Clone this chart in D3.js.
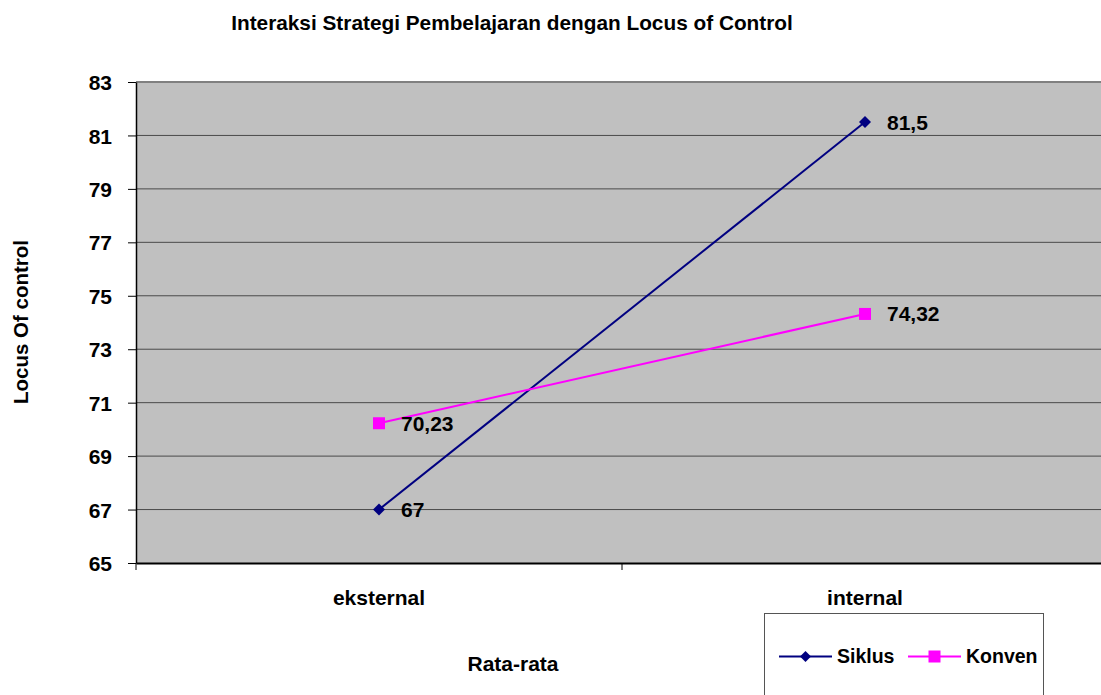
<!DOCTYPE html>
<html><head><meta charset="utf-8">
<script src="https://cdn.jsdelivr.net/npm/d3@7"></script>
<style>body{margin:0;background:#fff}svg{display:block}text{font-family:Arial,"Liberation Sans",sans-serif;font-weight:bold;fill:#000}</style>
</head><body><svg id="c" width="1101" height="695"></svg>
<script>
const categories = ["eksternal", "internal"];
const siklus = [67, 81.5];
const konven = [70.23, 74.32];
const siklusLabels = ["67", "81,5"];
const konvenLabels = ["70,23", "74,32"];
const yTicks = [65, 67, 69, 71, 73, 75, 77, 79, 81, 83];
const seriesNames = ["Siklus", "Konven"];

const FF = "Arial, 'Liberation Sans', sans-serif";
const svg = d3.select("#c");
const L = 136, T = 82, B = 563, R = 1108;
const x = d3.scaleBand().domain(categories).range([L, R]);
const y = d3.scaleLinear().domain([65, 83]).range([B, T]);

svg.append("rect").attr("x", L).attr("y", T).attr("width", R - L).attr("height", B - T).attr("fill", "#C0C0C0");
// gridlines
svg.append("g").selectAll("line").data(yTicks.slice(1)).join("line")
  .attr("x1", L).attr("x2", R).attr("y1", d => y(d)).attr("y2", d => y(d))
  .attr("stroke", d => d === 83 ? "#808080" : "#4a4a4a").attr("stroke-width", d => d === 83 ? 2 : 1);

// y axis
const ya = svg.append("g").attr("transform", `translate(${L},0)`)
  .call(d3.axisLeft(y).tickValues(yTicks).tickSize(8).tickPadding(16).tickSizeOuter(0));
ya.select(".domain").attr("stroke", "#000").attr("stroke-width", 1.5);
ya.selectAll(".tick line").attr("stroke", "#000");
ya.selectAll("text").style("font-size", "21px").style("font-family", FF).style("font-weight", "bold").attr("fill", "#000").attr("dy", "0.36em");

// x axis
const xa = svg.append("g").attr("transform", `translate(0,${B})`)
  .call(d3.axisBottom(x).tickSize(0).tickSizeOuter(0).tickPadding(0));
xa.select(".domain").attr("stroke", "#000").attr("stroke-width", 2);
xa.selectAll("text").style("font-size", "21px").style("font-family", FF).style("font-weight", "bold")
  .attr("fill", "#000").attr("y", 42).attr("dy", 0);
// boundary ticks
const bounds = [L, x(categories[1])];
svg.append("g").selectAll("line").data(bounds).join("line")
  .attr("x1", d => d).attr("x2", d => d).attr("y1", B).attr("y2", B + 7).attr("stroke", "#000");

const cx = d => x(d) + x.bandwidth() / 2;
const line = d3.line().x((d, i) => cx(categories[i])).y(d => y(d));

svg.append("path").datum(siklus).attr("d", line).attr("fill", "none").attr("stroke", "#000080").attr("stroke-width", 2);
svg.append("path").datum(konven).attr("d", line).attr("fill", "none").attr("stroke", "#FF00FF").attr("stroke-width", 2);

svg.append("g").selectAll("path").data(siklus).join("path")
  .attr("d", d3.symbol().type(d3.symbolSquare).size(72)).attr("fill", "#000080")
  .attr("transform", (d, i) => `translate(${cx(categories[i])},${y(d)}) rotate(45)`);
svg.append("g").selectAll("rect").data(konven).join("rect")
  .attr("x", (d, i) => cx(categories[i]) - 6).attr("y", d => y(d) - 6)
  .attr("width", 12).attr("height", 12).attr("fill", "#FF00FF");

// data labels
svg.append("g").selectAll("text").data(siklus).join("text")
  .attr("x", (d, i) => cx(categories[i]) + 22).attr("y", d => y(d) + 7.5)
  .style("font-size", "21px").text((d, i) => siklusLabels[i]);
svg.append("g").selectAll("text").data(konven).join("text")
  .attr("x", (d, i) => cx(categories[i]) + 22).attr("y", d => y(d) + 7.5)
  .style("font-size", "21px").text((d, i) => konvenLabels[i]);

// titles
svg.append("text").attr("x", 512).attr("y", 30).attr("text-anchor", "middle").style("font-size", "20.8px")
  .text("Interaksi Strategi Pembelajaran dengan Locus of Control");
svg.append("text").attr("transform", "translate(28,322) rotate(-90)").attr("text-anchor", "middle").style("font-size", "20.5px")
  .text("Locus Of control");
svg.append("text").attr("x", 513).attr("y", 671).attr("text-anchor", "middle").style("font-size", "21px").text("Rata-rata");

// legend
const lg = svg.append("g");
lg.append("rect").attr("x", 764.5).attr("y", 613.5).attr("width", 279).attr("height", 90).attr("fill", "#fff").attr("stroke", "#555");
const items = [{name: seriesNames[0], color: "#000080", x: 779, type: "d"}, {name: seriesNames[1], color: "#FF00FF", x: 908, type: "s"}];
items.forEach(it => {
  lg.append("line").attr("x1", it.x).attr("x2", it.x + 53).attr("y1", 656.5).attr("y2", 656.5).attr("stroke", it.color).attr("stroke-width", 2);
  if (it.type === "d") {
    lg.append("path").attr("d", d3.symbol().type(d3.symbolSquare).size(60)).attr("fill", it.color)
      .attr("transform", `translate(${it.x + 26.5},656.5) rotate(45)`);
  } else {
    lg.append("rect").attr("x", it.x + 20.5).attr("y", 650.5).attr("width", 12).attr("height", 12).attr("fill", it.color);
  }
  lg.append("text").attr("x", it.x + 58).attr("y", 663).style("font-size", "19.5px").text(it.name);
});
</script></body></html>
